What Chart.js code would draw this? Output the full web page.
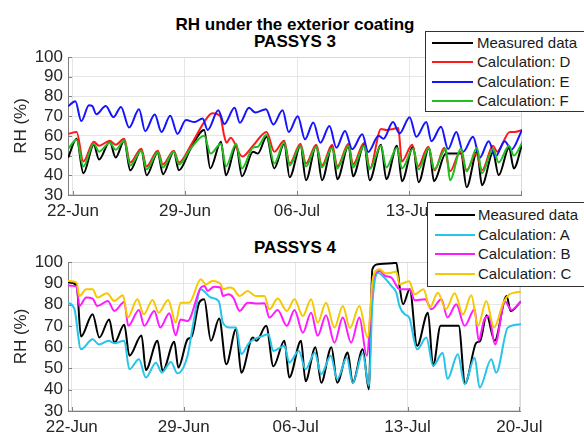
<!DOCTYPE html>
<html>
<head>
<meta charset="utf-8">
<script src="https://cdn.jsdelivr.net/npm/chart.js@4.4.0/dist/chart.umd.min.js"></script>
<style>
  html, body { margin: 0; padding: 0; background: #fff; }
  body { width: 584px; height: 436px; position: relative; overflow: hidden; font-family: "Liberation Sans", Arial, sans-serif; }
  canvas { position: absolute; left: 0; }
  .title { position: absolute; left: 0; width: 590px; text-align: center; font-weight: bold; font-size: 17px; line-height: 17px; color: #000; white-space: nowrap; }
  .legend { position: absolute; background: #fff; border: 1px solid #333; width: 190px; z-index: 5; }
  .legend .ln { position: absolute; height: 2px; }
  .legend .tx { position: absolute; font-size: 15px; line-height: 20px; color: #1a1a1a; white-space: nowrap; }
</style>
</head>
<body>
<div class="title" style="top:16px">RH under the exterior coating</div>
<div class="title" style="top:33px">PASSYS 3</div>
<div class="title" style="top:239px">PASSYS 4</div>

<canvas id="top" width="584" height="228" style="top:0"></canvas>
<canvas id="bottom" width="584" height="208" style="top:228px"></canvas>

<div class="legend" id="legTop" style="left:425px; top:31px; height:79px;"></div>
<div class="legend" id="legBottom" style="left:427px; top:202px; height:83px;"></div>

<script>
// days after 22-Jun
const tickDays = [0, 7, 14, 21, 28];
const tickLabels = ['22-Jun', '29-Jun', '06-Jul', '13-Jul', '20-Jul'];

// PASSYS 3  [day, RH %]
const measured3 = [[-0.3,49],[0.23,58.5],[0.65,41],[1.3,55.5],[1.63,48],[2.3,57],[2.67,49],[3.2,57.5],[3.58,42.5],[4.27,53],[4.6,40],[5.3,51.5],[5.62,40.5],[6.3,52],[6.62,42.5],[7.35,53.5],[8.2,63],[8.58,43.5],[9.25,57],[9.56,40],[10.2,55],[10.56,39.5],[11.25,52],[11.55,51],[12.1,59.5],[12.58,43.5],[13.2,56],[13.54,39],[14.22,55],[14.56,37.5],[15.2,55],[15.56,37.5],[16.2,55],[16.52,38],[17.22,55],[17.5,39.5],[18.2,55.5],[18.54,37.5],[19.25,55.5],[19.58,38],[20.25,55],[20.56,37],[21.25,54.5],[21.6,36.5],[22.25,54],[22.56,37],[23.3,51],[24.25,51],[24.6,34],[25.25,52],[25.56,35],[26.25,51.5],[26.6,40],[27.25,54],[27.55,43.5],[28.1,57]];
const calcD = [[-0.3,61],[0.23,62],[0.65,47],[1.3,57],[1.63,55],[2.3,57.5],[2.67,55.5],[3.2,58.5],[3.58,46.5],[4.27,53.5],[4.6,44.5],[5.3,52.5],[5.62,45.5],[6.3,52.5],[6.62,46.5],[7.35,55],[8.2,67],[8.7,71.5],[9.2,70],[9.45,60],[9.6,56.5],[9.85,59],[10.58,49.5],[11.25,55],[12.1,62],[12.58,52],[13.2,57.5],[13.54,46],[14.22,56],[14.56,46],[15.2,55.5],[15.56,45],[16.2,55.5],[16.52,44.5],[17.22,56],[17.5,45.5],[18.2,56.5],[18.56,43.5],[19.25,63.5],[19.6,63],[20.0,63.5],[20.33,64],[20.55,47],[21.2,55.5],[21.56,44.5],[22.2,54.5],[22.6,42.5],[23.2,54],[23.56,42],[24.2,52],[24.6,42.5],[25.2,51],[25.56,42.5],[26.25,55],[26.5,52],[27.3,62],[27.6,62],[28.1,63]];
const calcE = [[-0.3,75],[0.15,77.5],[0.52,67.5],[1.0,75.5],[1.2,75.2],[1.46,71],[2.05,75.2],[2.53,69.5],[3.0,74.7],[3.51,64.2],[4.13,73.5],[4.51,62.4],[5.11,70.8],[5.53,62],[6.08,70.2],[6.53,61],[7.06,68],[7.6,67],[8.1,68.8],[8.42,63],[9.08,73],[9.46,66],[10.1,74.2],[10.43,66.6],[11.0,74.2],[11.4,71.8],[12.06,73.5],[12.52,65.8],[13.1,73],[13.48,62],[14.05,70],[14.5,58.3],[15.02,66.8],[15.46,56.5],[16.03,65],[16.46,54],[17.0,62.5],[17.45,53.2],[18.08,60.8],[18.45,51.8],[19.1,60],[19.4,58.5],[20.0,67],[20.4,61.2],[21.04,69.5],[21.46,59.5],[22.08,67],[22.4,57.3],[23.0,64.6],[23.44,53.3],[23.96,62],[24.38,51.9],[25.0,59.5],[25.42,48.9],[25.98,57.3],[26.4,49.4],[26.98,57.3],[27.4,53],[28.06,63]];
const calcF = [[-0.3,53.5],[0.23,58],[0.65,44.5],[1.3,56],[1.63,52],[2.3,56.5],[2.67,53],[3.2,57.5],[3.58,45],[4.27,52.5],[4.6,43],[5.3,51.5],[5.62,44],[6.3,52],[6.62,45.5],[7.35,53.5],[8.2,60],[8.6,51],[9.25,56],[9.56,44.5],[10.2,56],[10.56,43.5],[11.25,54],[11.55,54.5],[12.1,60.5],[12.58,46],[13.2,56.5],[13.54,45],[14.22,55],[14.56,44.5],[15.2,54.5],[15.56,44],[16.2,54],[16.52,43.5],[17.22,55],[17.5,44],[18.2,55],[18.54,43],[19.25,55],[19.58,44],[20.25,54],[20.56,43.5],[21.25,53.5],[21.6,43],[22.25,54],[22.56,43],[23.3,53.5],[23.56,37.5],[24.25,53.5],[24.6,42],[25.25,54],[25.56,41],[26.25,53.5],[26.6,46.5],[27.25,55],[27.55,50],[28.1,57]];

// PASSYS 4  [day, RH %]
const measured4 = [[-0.25,90.6],[0.3,89],[0.57,65],[1.3,75.5],[1.72,64.5],[2.34,73],[2.66,62],[3.28,70.5],[3.6,56],[4.36,65.5],[4.63,49.3],[5.36,63],[5.68,48.8],[6.41,62.5],[6.66,50.4],[7.24,63.7],[7.5,65],[7.97,81],[8.28,82.5],[8.7,63],[9.22,73.4],[9.66,52],[10.28,68.5],[10.6,48],[11.32,64.5],[11.55,63],[12.16,70],[12.61,51],[13.3,63],[13.6,45.7],[14.34,63],[14.62,44],[15.24,60],[15.6,43.3],[16.24,60],[16.6,43.3],[17.26,57.5],[17.57,43.3],[18.2,59],[18.58,40.2],[18.8,96.6],[19.16,99],[20.0,99.4],[20.3,99.7],[20.5,88.7],[20.72,80.1],[21.14,87.2],[21.6,60.6],[22.28,76.2],[22.6,51.2],[23.07,70],[24.2,70],[24.6,43],[25.3,62],[25.55,63],[25.95,75],[26.45,63],[27.2,84],[27.45,77],[28.1,81.5]];
const calcA = [[-0.25,81],[0.16,78],[0.57,59],[1.3,63.7],[1.7,61.3],[2.3,63],[2.66,61.8],[3.28,63],[3.6,49.6],[4.2,54.3],[4.63,45.7],[5.26,52.7],[5.63,48],[6.2,53],[6.6,47.7],[7.24,56],[7.55,69],[8.07,87.2],[8.7,83.3],[9.2,81.5],[9.45,71.5],[9.87,69.2],[10.28,69.2],[10.6,56.7],[11.1,62.1],[11.95,65.3],[12.3,66],[12.6,58.2],[13.3,60.6],[13.6,52.7],[14.2,58.2],[14.62,49.6],[15.2,57.4],[15.6,47.3],[16.2,56],[16.6,45],[17.2,55],[17.57,43.3],[18.2,57],[18.58,41.8],[18.8,80],[19.16,95],[19.45,93.4],[20.0,88.7],[20.3,85.6],[20.5,79.3],[20.82,75.4],[21.1,74],[21.6,59],[22.18,64.5],[22.6,51.2],[23.2,57.4],[23.5,45],[24.15,56.7],[24.57,42.6],[25.2,55],[25.51,41],[26.24,54.3],[26.55,48],[27.28,69.2],[28.1,70.7]];
const calcB = [[-0.25,89],[0.3,88.4],[0.47,79.3],[0.9,83.3],[1.3,82.8],[1.6,79.3],[2.25,81.7],[2.66,77],[3.28,81.2],[3.53,70],[4.2,77.5],[4.53,70],[5.16,77],[5.53,69.2],[6.1,75.9],[6.5,65.6],[6.8,73],[7.24,72.3],[8.07,88],[8.3,88.7],[8.5,86.4],[8.9,88.4],[9.3,88],[9.45,84],[9.8,84.8],[10.1,83.3],[10.5,77],[11.0,80.9],[11.5,80.5],[12.05,80.6],[12.36,73.9],[12.88,77.5],[13.45,70],[13.93,77.5],[14.45,66.8],[14.97,76.2],[15.38,65.3],[15.9,75],[16.43,62.1],[16.95,73.9],[17.47,62.1],[17.99,73.9],[18.45,56],[18.85,92],[19.26,95.8],[19.6,93.5],[20.0,92.6],[20.5,87.2],[21.14,87.2],[21.45,82],[22.1,82.5],[22.5,77.8],[23.12,82.5],[23.5,73.9],[24.05,80.1],[24.57,70],[25.2,77.8],[25.45,63],[25.8,73],[26.1,74.5],[26.47,61.3],[27.1,81.4],[27.5,77.5],[28.1,81.5]];
const calcC = [[-0.25,91.1],[0.3,90.3],[0.47,84],[0.9,87.2],[1.3,87.2],[1.6,83.3],[2.2,85.3],[2.66,81.7],[3.2,84.4],[3.5,73.9],[4.1,82.5],[4.5,75.4],[5.05,82.2],[5.43,76.2],[6.03,82.2],[6.5,71.5],[6.8,80.9],[7.34,80.9],[8.07,91.9],[8.38,89.5],[8.8,91.1],[9.32,89.5],[9.45,87.2],[9.86,88],[10.1,87.5],[10.5,84],[11.0,86.4],[11.5,84],[12.05,84],[12.36,77.8],[12.88,82.8],[13.45,77],[13.93,82.5],[14.45,74.6],[14.97,82.5],[15.38,71.5],[15.9,80.9],[16.43,69.2],[16.95,79.3],[17.4,69],[17.99,79.3],[18.5,64.5],[18.85,93],[19.26,96.6],[19.6,94.7],[20.0,95],[20.3,95.5],[20.5,89.5],[21.1,91],[21.45,84.8],[22.0,87.2],[22.4,78.6],[22.9,85.6],[23.4,77.8],[23.95,85.3],[24.47,75.4],[24.99,84.4],[25.41,70],[25.93,81.7],[26.41,69.2],[27.0,81],[27.38,84.8],[27.7,85.6],[28.1,86]];

const colors = {
  measured: '#000000', D: '#ff1a1a', E: '#1414ff', F: '#1fbf1f',
  A: '#26c4e8', B: '#ff1aff', C: '#f5c800'
};

Chart.defaults.font.family = '"Liberation Sans", Arial, sans-serif';
Chart.defaults.color = '#262626';

const framePlugin = {
  id: 'frame',
  beforeDatasetsDraw(chart) {
    const { ctx, chartArea: a, scales: { x, y } } = chart;
    ctx.save();
    ctx.lineWidth = 1;
    ctx.strokeStyle = '#d9d9d9';
    ctx.strokeRect(a.left + 0.5, a.top + 0.5, a.width - 1, a.height - 1);
    ctx.strokeStyle = '#808080';
    ctx.beginPath();
    ctx.moveTo(a.left + 0.5, a.top);
    ctx.lineTo(a.left + 0.5, a.bottom + 0.5);
    ctx.lineTo(a.right, a.bottom + 0.5);
    y.ticks.forEach(t => {
      const py = Math.round(y.getPixelForValue(t.value)) + 0.5;
      ctx.moveTo(a.left, py); ctx.lineTo(a.left + 4, py);
    });
    x.ticks.forEach(t => {
      const px = Math.round(x.getPixelForValue(t.value)) + 0.5;
      ctx.moveTo(px, a.bottom); ctx.lineTo(px, a.bottom - 4);
    });
    ctx.stroke();
    ctx.restore();
  }
};

function series(label, data, color, order) {
  return {
    label, data, order,
    borderColor: color, borderWidth: 2,
    pointRadius: 0, fill: false,
    cubicInterpolationMode: 'monotone',
    borderJoinStyle: 'round'
  };
}

function makeChart(id, datasets, xMin, xMax, pad, xAxisHeight) {
  return new Chart(document.getElementById(id), {
    type: 'line',
    data: { datasets },
    plugins: [framePlugin],
    options: {
      responsive: false,
      animation: false,
      devicePixelRatio: 1,
      layout: { padding: pad },
      plugins: { legend: { display: false }, tooltip: { enabled: false } },
      scales: {
        x: {
          type: 'linear', min: xMin, max: xMax,
          afterBuildTicks: s => { s.ticks = tickDays.map(v => ({ value: v })); },
          afterFit: s => { s.height = xAxisHeight; },
          ticks: {
            autoSkip: false, maxRotation: 0, padding: 6,
            font: { size: 17 }, color: '#262626',
            callback: v => tickLabels[tickDays.indexOf(v)]
          },
          grid: { color: '#e6e6e6', drawTicks: false },
          border: { display: false }
        },
        y: {
          min: 30, max: 100,
          afterFit: s => { s.width = 68; },
          ticks: { stepSize: 10, autoSkip: false, padding: 5, font: { size: 17 }, color: '#262626' },
          grid: { color: '#e6e6e6', drawTicks: false },
          border: { display: false },
          title: { display: true, text: 'RH (%)', font: { size: 17 }, color: '#262626', padding: { top: 11, bottom: 0 } }
        }
      }
    }
  });
}

makeChart('top', [
  series('Measured data', measured3, colors.measured, 4),
  series('Calculation: D', calcD, colors.D, 3),
  series('Calculation: E', calcE, colors.E, 2),
  series('Calculation: F', calcF, colors.F, 1)
], -0.31, 28.06, { top: 57, right: 62, left: 0, bottom: 0 }, 33);

makeChart('bottom', [
  series('Measured data', measured4, colors.measured, 4),
  series('Calculation: A', calcA, colors.A, 3),
  series('Calculation: B', calcB, colors.B, 2),
  series('Calculation: C', calcC, colors.C, 1)
], -0.24, 28.1, { top: 34, right: 63, left: 0, bottom: 0 }, 25);

function buildLegend(id, items, rowTops, lineLeft, lineWidth, textLeft) {
  const box = document.getElementById(id);
  items.forEach((it, i) => {
    const ln = document.createElement('div');
    ln.className = 'ln';
    ln.style.cssText = `left:${lineLeft}px; top:${rowTops[i] - 1}px; width:${lineWidth}px; background:${it[1]}`;
    const tx = document.createElement('div');
    tx.className = 'tx';
    tx.style.cssText = `left:${textLeft}px; top:${rowTops[i] - 10}px;`;
    tx.textContent = it[0];
    box.appendChild(ln);
    box.appendChild(tx);
  });
}

buildLegend('legTop', [
  ['Measured data', colors.measured], ['Calculation: D', colors.D],
  ['Calculation: E', colors.E], ['Calculation: F', colors.F]
], [11, 30, 50, 69], 6, 41, 51);

buildLegend('legBottom', [
  ['Measured data', colors.measured], ['Calculation: A', colors.A],
  ['Calculation: B', colors.B], ['Calculation: C', colors.C]
], [12, 32, 51, 71], 7, 40, 50);
</script>
</body>
</html>
